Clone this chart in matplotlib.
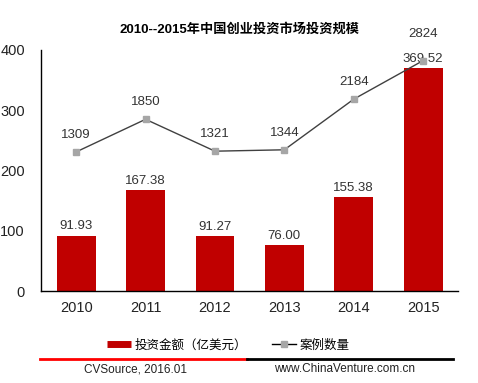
import matplotlib.pyplot as plt
import numpy as np
from matplotlib.lines import Line2D

plt.rcParams['font.family'] = ['Liberation Sans', 'Noto Sans CJK SC']

# 数据
years = ['2010', '2011', '2012', '2013', '2014', '2015']
amount = [91.93, 167.38, 91.27, 76.00, 155.38, 369.52]   # 投资金额（亿美元）
cases = [1309, 1850, 1321, 1344, 2184, 2824]             # 案例数量
amount_labels = ['91.93', '167.38', '91.27', '76.00', '155.38', '369.52']

bar_color = '#c00000'
line_color = '#404040'
marker_color = '#a6a6a6'
text_color = '#333333'

fig = plt.figure(figsize=(4.78, 3.83), dpi=100)
ax = fig.add_axes([0.0868, 0.240, 0.871, 0.6295])
ax2 = ax.twinx()

x = np.arange(len(years))
ax.bar(x, amount, width=0.56, color=bar_color)
for xi, v, lab in zip(x, amount, amount_labels):
    ax.annotate(lab, (xi, v), xytext=(0, 2.5), textcoords='offset points',
                ha='center', va='bottom', fontsize=9.5, color=text_color)

ax.set_xlim(-0.5, 5.5)
ax.set_ylim(0, 400)
ax.set_yticks([0, 100, 200, 300, 400])
ax.set_xticks(x)
ax.set_xticklabels(years)
ax.tick_params(axis='y', length=0, pad=12, labelsize=10.5, colors='#222222')
ax.tick_params(axis='x', length=0, pad=7.5, labelsize=10.5, colors='#222222')
for s in ['top', 'right']:
    ax.spines[s].set_visible(False)
for s in ['left', 'bottom']:
    ax.spines[s].set_color('black')
    ax.spines[s].set_linewidth(1)

# 案例数量（次坐标轴，隐藏）
ax2.plot(x, cases, color=line_color, linewidth=1, marker='s', markersize=4,
         markerfacecolor=marker_color, markeredgecolor=marker_color)
ax2.set_ylim(-1000, 3000)
ax2.axis('off')
for i, (xi, v) in enumerate(zip(x, cases)):
    off = 15 if i == len(cases) - 1 else 8
    ax2.annotate(str(v), (xi, v), xytext=(0, off), textcoords='offset points',
                 ha='center', va='bottom', fontsize=9.5, color=text_color)

fig.text(0.502, 0.924, '2010--2015年中国创业投资市场投资规模', ha='center', va='center',
         fontsize=9.5, fontweight='bold', color='black')

# 图例
handles = [Line2D([], [], color=bar_color, linewidth=5, solid_capstyle='butt'),
           Line2D([], [], color='black', linewidth=1, marker='s', markersize=4,
                  markerfacecolor=marker_color, markeredgecolor=marker_color)]
fig.legend(handles, ['投资金额（亿美元）', '案例数量'], loc='center',
           bbox_to_anchor=(0.478, 0.099), ncol=2, frameon=False,
           prop={'family': ['Noto Sans CJK SC'], 'size': 9},
           handlelength=1.9, handletextpad=0.3, columnspacing=2.0)

# 底部分隔线与来源
fig.add_artist(Line2D([40 / 478, 247 / 478], [1 - 359 / 383] * 2, color='#ff0000', linewidth=2))
fig.add_artist(Line2D([247 / 478, 453 / 478], [1 - 359 / 383] * 2, color='black', linewidth=2))
fig.text(136 / 478, 1 - 369 / 383, 'CVSource, 2016.01', ha='center', va='center',
         fontsize=8.5, color='#222222')
fig.text(344.5 / 478, 1 - 369 / 383, 'www.ChinaVenture.com.cn', ha='center', va='center',
         fontsize=8.5, color='#222222')

fig.savefig('out.png', dpi=100)
